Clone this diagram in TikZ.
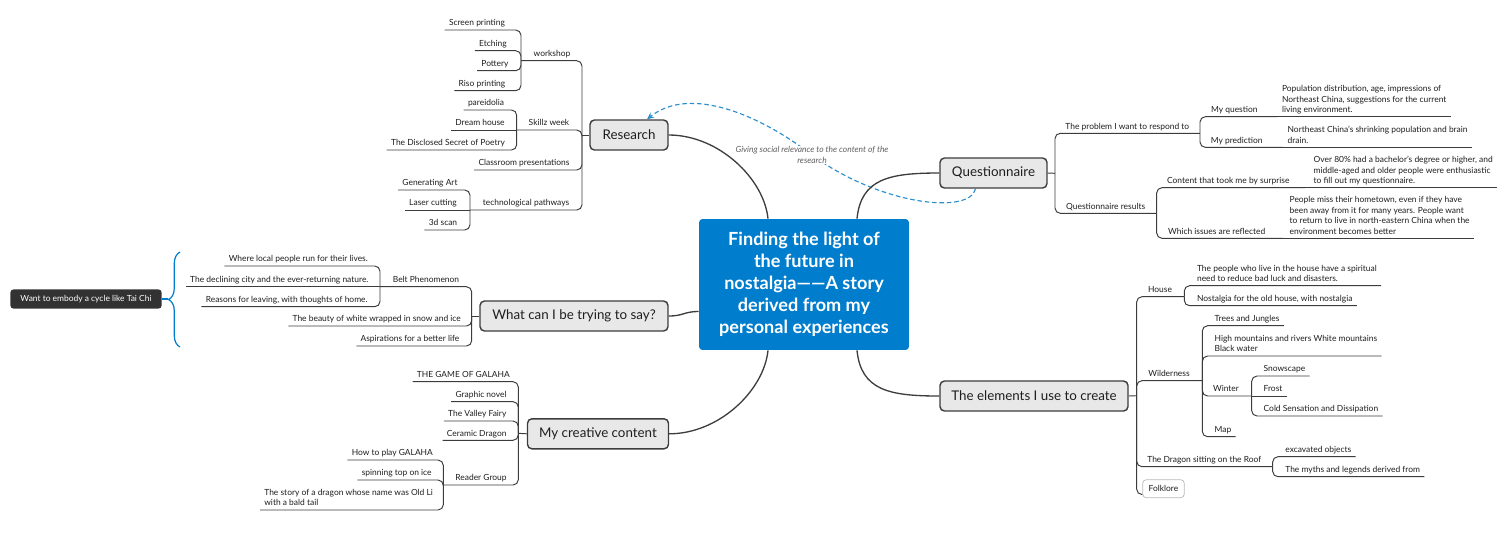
\documentclass[tikz,border=0pt]{standalone}
\usepackage{fontspec}
\setmainfont{Lato}
\usetikzlibrary{arrows.meta,decorations.pathreplacing}

\definecolor{xblue}{RGB}{0,125,205}
\definecolor{dashblue}{RGB}{45,142,205}
\definecolor{linegray}{RGB}{60,60,60}
\definecolor{topicgray}{RGB}{232,232,232}
\definecolor{darkbox}{RGB}{50,50,50}
\definecolor{textgray}{RGB}{30,30,30}

\newcommand{\smallfnt}{\fontsize{4.8}{5.95}\selectfont}
\newcommand{\topicfnt}{\fontsize{7.6}{9}\selectfont}
\newcommand{\centralfnt}{\fontsize{10.3}{12.5}\selectfont}

\tikzset{
  central/.style={fill=xblue, text=white, rounded corners=2pt, align=center, font=\centralfnt\bfseries, minimum width=4.2cm, minimum height=2.62cm},
  topic/.style={draw=linegray, line width=0.8pt, fill=topicgray, rounded corners=2.5pt, font=\topicfnt, text=textgray, minimum height=0.6cm},
  lbl/.style={font=\smallfnt, text=textgray, inner xsep=0.08cm, inner ysep=0.2pt, text depth=0.2em, anchor=south},
  lbll/.style={font=\smallfnt, text=textgray, inner xsep=0.08cm, inner ysep=0.2pt, text depth=0.2em, align=left, anchor=south west},
  summary/.style={fill=darkbox, text=white, rounded corners=2pt, font=\smallfnt, minimum width=3.03cm, minimum height=0.36cm},
  folkbox/.style={draw=gray!55, fill=white, rounded corners=2pt, font=\smallfnt, text=textgray, minimum width=0.83cm, minimum height=0.34cm},
  relnote/.style={font=\smallfnt\itshape, text=gray!75!black, align=center, fill=white, inner sep=0.5pt},
  branch/.style={draw=linegray, line width=0.55pt, rounded corners=3pt},
  mainline/.style={draw=linegray, line width=0.75pt},
  relline/.style={draw=dashblue, line width=0.65pt, dash pattern=on 2.6pt off 1.6pt, -{Stealth[length=4pt,width=3.6pt]}},
}

\begin{document}
\begin{tikzpicture}[x=0.02cm, y=-0.02cm]
\useasboundingbox (0,0) rectangle (1505,539);

% centre and main topics
\node[central] (central) at (804,284.5) {Finding the light of\\the future in\\nostalgia——A story\\derived from my\\personal experiences};
\node[topic, minimum width=1.56cm] (research) at (629,135) {Research};
\node[topic, minimum width=2.14cm] (quest) at (993.5,173) {Questionnaire};
\node[topic, minimum width=3.76cm] (says) at (574,316) {What can I be trying to say?};
\node[topic, minimum width=2.82cm] (creative) at (598,433.8) {My creative content};
\node[topic, minimum width=3.76cm] (elements) at (1034,396) {The elements I use to create};

% Research
\coordinate (rj) at (582,135);
\coordinate (wj) at (521,60.7);
\coordinate (sj) at (516.7,130);
\coordinate (tj) at (470,210);
\node[lbl] (workshop) at (552,60.7) {workshop};
\node[lbl] (scr) at (477,30) {Screen printing};
\node[lbl] (etch) at (493,50.7) {Etching};
\node[lbl] (pot) at (495,70.7) {Pottery};
\node[lbl] (riso) at (482,90.7) {Riso printing};
\node[lbl] (skillz) at (549,130) {Skillz week};
\node[lbl] (par) at (486,110) {pareidolia};
\node[lbl] (dream) at (480,130) {Dream house};
\node[lbl] (secret) at (448,150) {The Disclosed Secret of Poetry};
\node[lbl] (class) at (524,170) {Classroom presentations};
\node[lbl] (tech) at (526,210) {technological pathways};
\node[lbl] (gen) at (430,190) {Generating Art};
\node[lbl] (laser) at (433,210) {Laser cutting};
\node[lbl] (scan) at (443,230) {3d scan};

\draw[branch] (rj) -- (research.west);
\draw[branch] (wj) -| (rj);
\draw[branch] (sj) -| (rj);
\draw[branch] (class.south west) -| (rj);
\draw[branch] (tj) -| (rj);
\draw[branch] (scr.south west) -| (wj);
\draw[branch] (etch.south west) -| (wj);
\draw[branch] (pot.south west) -| (wj);
\draw[branch] (riso.south west) -| (wj);
\draw[branch] (par.south west) -| (sj);
\draw[branch] (dream.south west) -- (sj);
\draw[branch] (secret.south west) -| (sj);
\draw[branch] (gen.south west) -| (tj);
\draw[branch] (laser.south west) -- (tj);
\draw[branch] (scan.south west) -| (tj);

% What can I be trying to say?
\coordinate (saysj) at (471.7,316);
\coordinate (beltj) at (380,286.7);
\node[lbl] (belt) at (426,286.7) {Belt Phenomenon};
\node[lbl] (run) at (298.3,266) {Where local people run for their lives.};
\node[lbl] (decl) at (279.3,286.7) {The declining city and the ever-returning nature.};
\node[lbl] (leave) at (286.7,306.7) {Reasons for leaving, with thoughts of home.};
\node[lbl] (white) at (376.7,326) {The beauty of white wrapped in snow and ice};
\node[lbl] (asp) at (410,346) {Aspirations for a better life};

\draw[branch] (saysj) -- (says.west);
\draw[branch] (beltj) -| (saysj);
\draw[branch] (white.south west) -| (saysj);
\draw[branch] (asp.south west) -| (saysj);
\draw[branch] (run.south west) -| (beltj);
\draw[branch] (decl.south west) -- (beltj);
\draw[branch] (leave.south west) -| (beltj);

\node[summary] (taichi) at (86,299) {Want to embody a cycle like Tai Chi};
\coordinate (bracetop) at (180,252);
\coordinate (bracebot) at (180,347);
\coordinate (bracetip) at (168,299);
\draw[xblue, line width=0.7pt, decorate, decoration={brace, amplitude=6.5pt}] (bracebot) -- (bracetop);
\draw[xblue, line width=0.7pt] (taichi.east) -- (bracetip);

% My creative content
\coordinate (crj) at (518.3,433.3);
\coordinate (readj) at (443.3,485);
\node[lbl] (game) at (463.3,381.7) {THE GAME OF GALAHA};
\node[lbl] (graphic) at (481,401.7) {Graphic novel};
\node[lbl] (fairy) at (477.3,421) {The Valley Fairy};
\node[lbl] (ceramic) at (476.7,440.3) {Ceramic Dragon};
\node[lbl] (reader) at (481,485) {Reader Group};
\node[lbl] (howto) at (392.3,460) {How to play GALAHA};
\node[lbl] (spin) at (396.7,480) {spinning top on ice};
\node[lbll] (story) at (260,510) {The story of a dragon whose name was Old Li\\with a bald tail};

\draw[branch] (crj) -- (creative.west);
\draw[branch] (game.south west) -| (crj);
\draw[branch] (graphic.south west) -| (crj);
\draw[branch] (fairy.south west) -| (crj);
\draw[branch] (ceramic.south west) -| (crj);
\draw[branch] (readj) -| (crj);
\draw[branch] (howto.south west) -| (readj);
\draw[branch] (spin.south west) -| (readj);
\draw[branch] (story.south west) -| (readj);

% Questionnaire
\coordinate (qj) at (1055,173.3);
\coordinate (probj) at (1200,133.3);
\coordinate (mqj) at (1277,116.7);
\coordinate (mpj) at (1283,147.3);
\coordinate (resj) at (1156.7,213.3);
\coordinate (surpj) at (1305,187.7);
\coordinate (issj) at (1283,238.3);
\node[lbl] (prob) at (1127.3,133.3) {The problem I want to respond to};
\node[lbl] (mq) at (1234.3,116.7) {My question};
\node[lbll] (pop) at (1277.7,116.7) {Population distribution, age, impressions of\\Northeast China, suggestions for the current\\living environment.};
\node[lbl] (mp) at (1236.7,147.3) {My prediction};
\node[lbll] (shrink) at (1283.3,147.3) {Northeast China's shrinking population and brain\\drain.};
\node[lbl] (res) at (1105.7,213.3) {Questionnaire results};
\node[lbl] (surp) at (1228.3,187.7) {Content that took me by surprise};
\node[lbll] (over) at (1309.3,187.7) {Over 80\% had a bachelor's degree or higher, and\\middle-aged and older people were enthusiastic\\to fill out my questionnaire.};
\node[lbl] (iss) at (1216.7,238.3) {Which issues are reflected};
\node[lbll] (miss) at (1285.3,238.3) {People miss their hometown, even if they have\\been away from it for many years. People want\\to return to live in north-eastern China when the\\environment becomes better};

\draw[branch] (quest.east) -- (qj);
\draw[branch] (probj) -| (qj);
\draw[branch] (resj) -| (qj);
\draw[branch] (mqj) -| (probj);
\draw[branch] (mpj) -| (probj);
\draw[branch] (pop.south east) -- (mqj);
\draw[branch] (shrink.south east) -- (mpj);
\draw[branch] (surpj) -| (resj);
\draw[branch] (issj) -| (resj);
\draw[branch] (over.south east) -- (surpj);
\draw[branch] (miss.south east) -- (issj);

% The elements I use to create
\coordinate (ej) at (1136.7,395.7);
\coordinate (houj) at (1184.3,296.7);
\coordinate (wildj) at (1202.3,380.7);
\coordinate (wintj) at (1251.7,396);
\coordinate (dragj) at (1272.7,466.7);
\node[lbl] (house) at (1160,296.7) {House};
\node[lbll] (spirit) at (1192.7,285.7) {The people who live in the house have a spiritual\\need to reduce bad luck and disasters.};
\node[lbll] (oldh) at (1192.7,305.7) {Nostalgia for the old house, with nostalgia};
\node[lbl] (wild) at (1169,380.7) {Wilderness};
\node[lbll] (trees) at (1210.3,325.7) {Trees and Jungles};
\node[lbll] (mount) at (1210.3,356) {High mountains and rivers White mountains\\Black water};
\node[lbl] (winter) at (1226,396) {Winter};
\node[lbll] (snow) at (1259.3,376) {Snowscape};
\node[lbll] (frost) at (1259.3,396) {Frost};
\node[lbll] (cold) at (1259.3,416) {Cold Sensation and Dissipation};
\node[lbll] (map) at (1210.3,436.7) {Map};
\node[lbl] (dragon) at (1204.3,466.7) {The Dragon sitting on the Roof};
\node[lbll] (exc) at (1281,456.7) {excavated objects};
\node[lbll] (myth) at (1281,476.7) {The myths and legends derived from};
\node[folkbox] (folk) at (1163.5,488.7) {Folklore};

\draw[branch] (elements.east) -- (ej);
\draw[branch] (houj) -| (ej);
\draw[branch] (wildj) -| (ej);
\draw[branch] (dragj) -| (ej);
\draw[branch] ([yshift=2pt]folk.south west) -| (ej);
\draw[branch] (spirit.south east) -| (houj);
\draw[branch] (oldh.south east) -| (houj);
\draw[branch] (trees.south east) -| (wildj);
\draw[branch] (mount.south east) -| (wildj);
\draw[branch] (wintj) -| (wildj);
\draw[branch] (map.south east) -| (wildj);
\draw[branch] (snow.south east) -| (wintj);
\draw[branch] (frost.south east) -- (wintj);
\draw[branch] (cold.south east) -| (wintj);
\draw[branch] (exc.south east) -| (dragj);
\draw[branch] (myth.south east) -| (dragj);

% relation
\coordinate (relmid) at (812,155);
\draw[relline] ([shift={(-18,0)}]quest.south) .. controls (970,215) and (880,205) .. (relmid) .. controls (760,115) and (690,85) .. ([shift={(18,0)}]research.north);
\node[relnote] (rel) at (relmid) {Giving social relevance to the content of the\\research};

% centre to main topics
\draw[mainline] (research.east) .. controls +(50,0) and +(-4,-40) .. ([shift={(-36,0)}]central.north);
\draw[mainline] (quest.west) .. controls +(-50,0) and +(4,-40) .. ([shift={(53,0)}]central.north);
\draw[mainline] (says.east) .. controls +(15,0) and +(-15,0) .. ([shift={(0,27)}]central.west);
\draw[mainline] (creative.east) .. controls +(50,0) and +(-4,40) .. ([shift={(-36,0)}]central.south);
\draw[mainline] (elements.west) .. controls +(-50,0) and +(4,40) .. ([shift={(53,0)}]central.south);
\end{tikzpicture}
\end{document}
